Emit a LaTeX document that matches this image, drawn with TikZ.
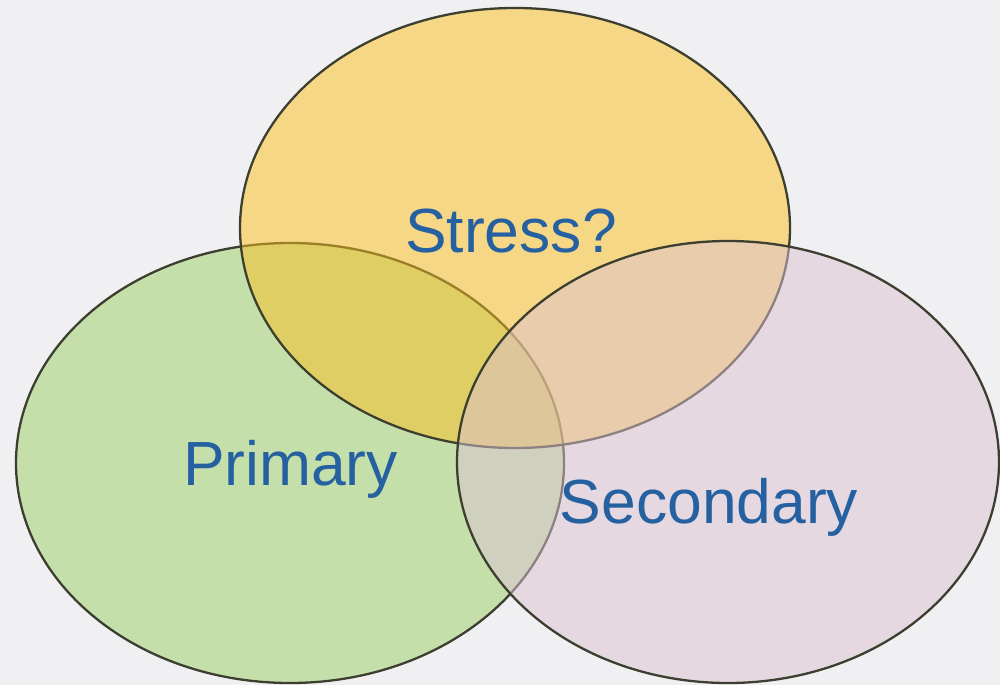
\documentclass[tikz,border=0pt]{standalone}
\usepackage{fontspec}
\setmainfont{Liberation Sans}
\usetikzlibrary{shapes.geometric}

\definecolor{bgcol}{RGB}{240,240,242}
\definecolor{stresscol}{RGB}{250,191,28}
\definecolor{primcol}{RGB}{156,208,102}
\definecolor{seccol}{RGB}{220,194,210}
\definecolor{rimcol}{RGB}{60,62,48}
\definecolor{labelcol}{RGB}{37,96,160}

\begin{document}
\begin{tikzpicture}

\tikzstyle{set}=[ellipse, draw=rimcol, line width=1.3pt, fill opacity=0.5, inner sep=0pt]
\tikzstyle{setlabel}=[anchor=base, text=labelcol, font=\fontsize{35.5}{42}\selectfont]

\fill[bgcol] (0,0) rectangle (20,13.7);
\useasboundingbox (0,0) rectangle (20,13.7);

\node[set, fill=primcol, minimum width=10.96cm, minimum height=8.8cm] (primary) at (5.8,4.44) {};
\node[set, fill=stresscol, minimum width=11cm, minimum height=8.8cm] (stress) at (10.3,9.14) {};
\node[set, fill=seccol, minimum width=10.84cm, minimum height=8.84cm] (secondary) at (14.56,4.46) {};

\node[setlabel] (stresstext) at (10.22,8.66) {Stress?};
\node[setlabel] (primtext) at (5.81,4.0) {Primary};
\node[setlabel] (sectext) at (14.18,3.24) {Secondary};

\end{tikzpicture}
\end{document}
